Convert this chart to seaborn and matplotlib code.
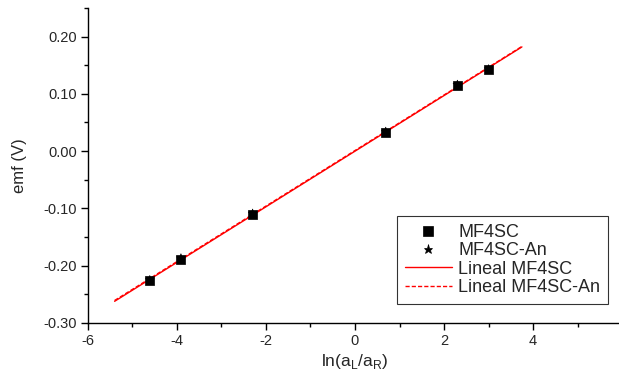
import numpy as np
import pandas as pd
import matplotlib
matplotlib.use("Agg")
import matplotlib.pyplot as plt
from matplotlib.ticker import MultipleLocator
import seaborn as sns

sns.set_theme(style="ticks")
plt.rcParams['font.family'] = ['Liberation Sans', 'DejaVu Sans']

# data
ln_ratio = [-4.61, -3.91, -2.30, 0.69, 2.30, 3.00]
emf_mf4sc = [-0.226, -0.189, -0.110, 0.033, 0.115, 0.142]
emf_mf4sc_an = [-0.225, -0.187, -0.109, 0.034, 0.116, 0.143]
fit_range = [-5.4, 3.75]

pts = pd.DataFrame({
    "x": ln_ratio * 2,
    "y": emf_mf4sc + emf_mf4sc_an,
    "serie": ["MF4SC"] * 6 + ["MF4SC-An"] * 6,
})

# linear fits
xs = np.linspace(fit_range[0], fit_range[1], 50)
fits = []
for name, ys in [("Lineal MF4SC", emf_mf4sc), ("Lineal MF4SC-An", emf_mf4sc_an)]:
    m, b = np.polyfit(ln_ratio, ys, 1)
    fits.append(pd.DataFrame({"x": xs, "y": m * xs + b, "fit": name}))
fits = pd.concat(fits)

fig = plt.figure(figsize=(6.19, 3.76), dpi=100)
ax = fig.add_axes([0.142, 0.141, 0.863, 0.838])

sns.scatterplot(data=pts, x="x", y="y", style="serie", markers={"MF4SC": "s", "MF4SC-An": "*"},
                color="black", s=42, edgecolor="black", linewidth=0.5, ax=ax, zorder=3)
sns.lineplot(data=fits, x="x", y="y", style="fit", dashes={"Lineal MF4SC": "", "Lineal MF4SC-An": (3, 1.5)},
             color="red", linewidth=1, ax=ax, zorder=2)

ax.set_xlim(-6, 6)
ax.set_ylim(-0.30, 0.25)
ax.xaxis.set_minor_locator(MultipleLocator(1))
ax.yaxis.set_minor_locator(MultipleLocator(0.05))
ax.set_yticks([-0.3, -0.2, -0.1, 0.0, 0.1, 0.2])
ax.set_yticklabels(["-0.30", "-0.20", "-0.10", "0.00", "0.10", "0.20"])
ax.set_xticks([-6, -4, -2, 0, 2, 4, 6])
ax.set_xticklabels(["-6", "-4", "-2", "0", "2", "4", "6"])
ax.tick_params(which="major", direction="out", length=5, width=1, labelsize=10.5, color="black", pad=3)
ax.tick_params(which="minor", direction="out", length=3, width=1, color="black")
sns.despine(ax=ax)
for s in ["left", "bottom"]:
    ax.spines[s].set_color("black")
    ax.spines[s].set_linewidth(1)

ax.set_xlabel(r"ln(a$_\mathregular{L}$/a$_\mathregular{R}$)", fontsize=12.5, labelpad=3)
ax.set_ylabel("emf (V)", fontsize=12, labelpad=12)

h, l = ax.get_legend_handles_labels()
keep = [i for i, t in enumerate(l) if t in ("MF4SC", "MF4SC-An", "Lineal MF4SC", "Lineal MF4SC-An")]
leg = ax.legend([h[i] for i in keep], [l[i] for i in keep], loc="lower right",
                bbox_to_anchor=(0.974, 0.06), fontsize=13, frameon=True, fancybox=False,
                edgecolor="black", handlelength=2.6, handletextpad=0.35, borderpad=0.45,
                labelspacing=0.07, borderaxespad=0)
leg.get_frame().set_linewidth(0.8)

fig.savefig("out.png", dpi=100)
